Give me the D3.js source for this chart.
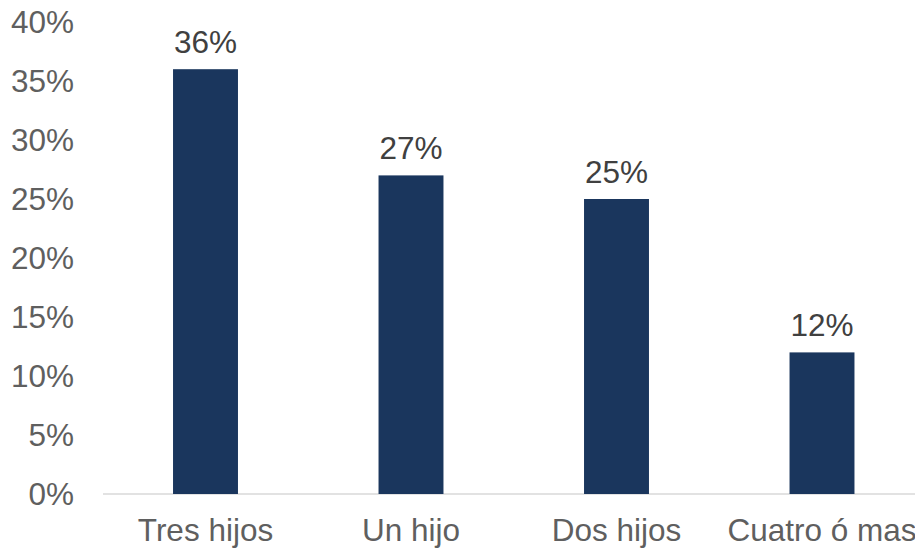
<!DOCTYPE html>
<html><head><meta charset="utf-8">
<script src="https://cdn.jsdelivr.net/npm/d3@7"></script>
<style>body{margin:0;background:#fff;} svg{display:block;}</style>
</head><body>
<svg id="c" width="915" height="550"></svg>
<script>
const categories = ["Tres hijos", "Un hijo", "Dos hijos", "Cuatro ó mas"];
const values = [36, 27, 25, 12];
const yTicks = [0, 5, 10, 15, 20, 25, 30, 35, 40];

const svg = d3.select("#c");
const font = "'Liberation Sans', Arial, sans-serif";
const x = d3.scaleBand().domain(categories).range([102.75, 924.75]).paddingInner(0.684).paddingOuter(0.342);
const y = d3.scaleLinear().domain([0, 40]).range([494, 22]);

svg.append("g").selectAll("text").data(yTicks).join("text")
  .attr("x", 74).attr("y", d => y(d)).attr("dy", "0.35em")
  .attr("text-anchor", "end").attr("font-family", font).attr("font-size", 31.5)
  .attr("fill", "#5f5f5f").text(d => d + "%");

svg.append("line").attr("x1", 103).attr("x2", 915).attr("y1", y(0)).attr("y2", y(0))
  .attr("stroke", "#d9d9d9").attr("stroke-width", 1.5);

svg.append("g").selectAll("rect").data(values).join("rect")
  .attr("x", (d, i) => x(categories[i])).attr("width", x.bandwidth())
  .attr("y", d => y(d)).attr("height", d => y(0) - y(d))
  .attr("fill", "#1a365d");

svg.append("g").selectAll("text").data(values).join("text")
  .attr("x", (d, i) => x(categories[i]) + x.bandwidth() / 2).attr("y", d => y(d) - 16.5)
  .attr("text-anchor", "middle").attr("font-family", font).attr("font-size", 31.5)
  .attr("fill", "#404040").text(d => d + "%");

svg.append("g").selectAll("text").data(categories).join("text")
  .attr("x", d => x(d) + x.bandwidth() / 2).attr("y", 541)
  .attr("text-anchor", "middle").attr("font-family", font).attr("font-size", 31.5)
  .attr("fill", "#5f5f5f").text(d => d);
</script>
</body></html>
